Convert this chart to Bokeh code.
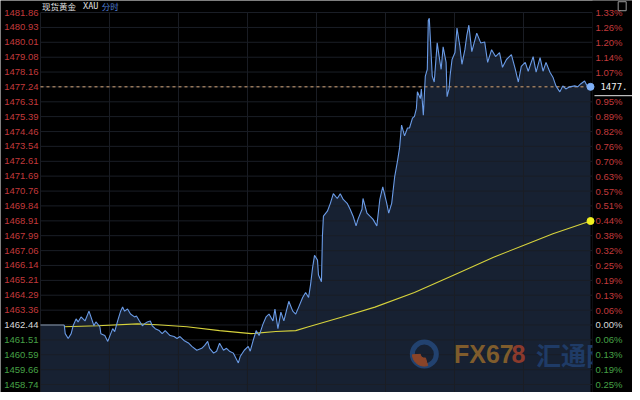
from bokeh.plotting import figure
from bokeh.models import Range1d
from bokeh.core.properties import value
from bokeh.embed import file_html
from bokeh.resources import INLINE

# ---------------- data ----------------
title_name = "现货黄金"
title_code = "XAU"
title_mode = "分时"

price_ticks = [1481.86, 1480.93, 1480.01, 1479.08, 1478.16, 1477.24, 1476.31,
               1475.39, 1474.46, 1473.54, 1472.61, 1471.69, 1470.76, 1469.84,
               1468.91, 1467.99, 1467.06, 1466.14, 1465.21, 1464.29, 1463.36,
               1462.44, 1461.51, 1460.59, 1459.66, 1458.74]
pct_labels = ["1.33%", "1.26%", "1.20%", "1.14%", "1.07%", "", "0.95%",
              "0.89%", "0.82%", "0.76%", "0.70%", "0.63%", "0.57%", "0.51%",
              "0.44%", "0.38%", "0.32%", "0.25%", "0.19%", "0.13%", "0.06%",
              "0.00%", "0.06%", "0.13%", "0.19%", "0.25%"]
base_price = 1462.44
last_label = "1477."

# pre-open flat segment (time slots)
pre_t = [0, 24]
pre_price = [1462.44, 1462.44]

# intraday price (time slot, price)
price_t = [24, 25, 28, 31, 33, 36, 38, 41, 45, 49, 51, 54, 56, 60, 61, 65, 68, 71, 73, 75,
           78, 81, 83, 85, 88, 91, 95, 97, 100, 103, 105, 108, 111, 113, 116, 120, 123, 126,
           129, 131, 135, 138, 141, 145, 150, 153, 158, 163, 166, 169, 171, 175, 178, 181,
           185, 188, 191, 195, 200, 202, 206, 210, 212, 215, 218, 221, 225, 228, 231, 235,
           237, 240, 243, 246, 251, 255, 258, 261, 265, 268, 271, 273, 275, 277, 280, 281,
           284, 285, 286, 290, 293, 296, 300, 303, 306, 310, 313, 316, 319, 321, 325, 326,
           330, 333, 336, 340, 343, 346, 350, 352, 355, 358, 361, 363, 365, 368, 371, 373,
           376, 378, 380, 381, 384, 385, 387, 389, 391, 392, 393, 394, 396, 398, 401, 403,
           405, 407, 410, 411, 413, 414, 416, 419, 421, 424, 426, 429, 431, 433, 436, 441,
           445, 449, 452, 456, 460, 464, 467, 471, 476, 480, 483, 486, 490, 493, 498, 501,
           505, 508, 511, 515, 518, 521, 525, 528, 531, 535, 540, 543, 546, 550, 553, 556]
price = [1462.44, 1461.90, 1461.60, 1461.90, 1462.39, 1462.82, 1462.63, 1462.94, 1462.69, 1463.30,
         1462.94, 1462.39, 1462.63, 1462.33, 1461.90, 1461.78, 1461.42, 1461.90, 1462.21, 1462.03,
         1462.69, 1463.30, 1463.55, 1463.30, 1463.43, 1463.12, 1462.94, 1463.00, 1462.69, 1462.39,
         1462.51, 1462.63, 1462.69, 1462.39, 1462.21, 1462.09, 1461.90, 1462.09, 1461.90, 1461.78,
         1461.72, 1461.60, 1461.72, 1461.48, 1461.30, 1461.11, 1460.87, 1460.99, 1461.17, 1461.42,
         1460.99, 1460.69, 1460.81, 1461.30, 1460.87, 1460.99, 1460.81, 1460.69, 1460.08, 1460.50,
         1460.87, 1461.11, 1460.81, 1461.48, 1462.09, 1461.78, 1462.51, 1462.94, 1463.12, 1462.69,
         1463.43, 1462.21, 1463.24, 1462.69, 1463.91, 1463.30, 1463.12, 1463.55, 1464.15, 1464.46,
         1464.15, 1464.95, 1465.98, 1466.77, 1466.47, 1465.55, 1465.13, 1467.99, 1469.20, 1469.51,
         1470.00, 1470.60, 1470.30, 1470.60, 1470.24, 1470.00, 1469.63, 1469.20, 1468.60, 1469.02,
         1469.63, 1470.30, 1469.39, 1469.20, 1469.02, 1468.60, 1470.24, 1471.03, 1470.00, 1469.39,
         1470.00, 1471.64, 1472.67, 1473.46, 1474.86, 1474.19, 1474.68, 1474.68, 1475.29, 1475.41,
         1475.90, 1476.93, 1476.51, 1477.11, 1475.47, 1477.91, 1478.33, 1481.37, 1481.50, 1480.34,
         1477.91, 1477.54, 1479.97, 1479.12, 1478.33, 1479.73, 1478.76, 1476.63, 1477.11, 1477.91,
         1478.94, 1479.37, 1480.89, 1479.73, 1478.64, 1479.55, 1480.46, 1481.07, 1479.43, 1480.58,
         1479.97, 1480.03, 1478.76, 1479.55, 1479.12, 1479.37, 1478.45, 1478.94, 1479.24, 1478.33,
         1477.54, 1478.51, 1478.76, 1478.21, 1479.12, 1478.15, 1479.06, 1478.21, 1478.76, 1478.15,
         1477.84, 1477.30, 1476.93, 1477.30, 1477.11, 1477.24, 1477.30, 1477.24, 1477.42, 1477.60,
         1477.24, 1477.24]

# average price line
avg_t = [24, 58, 98, 118, 148, 181, 213, 238, 258, 271, 305, 338, 378, 418, 458, 488, 518, 556]
avg_price = [1462.33, 1462.39, 1462.51, 1462.45, 1462.33, 1462.09, 1461.90, 1462.03, 1462.09,
             1462.33, 1462.94, 1463.55, 1464.46, 1465.55, 1466.65, 1467.38, 1468.11, 1468.90]

# ---------------- layout / style ----------------
W, H = 632, 392
session_start, session_end = 0, 558
x_lo, x_hi = -40.43, 598.43
y_lo, y_hi = 1458.243, 1482.606

UP = "#c23a3c"
DOWN = "#46a046"
FLAT = "#d8d8d8"

p = figure(width=W, height=H, output_backend="svg", toolbar_location=None,
           x_range=Range1d(x_lo, x_hi), y_range=Range1d(y_lo, y_hi),
           x_axis_type=None, y_axis_type=None, min_border=0,
           background_fill_color="#000000", border_fill_color="#000000")
p.outline_line_color = None
p.grid.visible = False

# area under price
fill_t = pre_t + price_t
fill_p = pre_price + price
p.varea(x=fill_t, y1=[y_lo] * len(fill_t), y2=fill_p, fill_color="#172132")

# grid
n = len(price_ticks)
p.segment(x0=[session_start] * n, x1=[session_end] * n, y0=price_ticks, y1=price_ticks,
          line_color="#1a1e26", line_width=1)
vt = [session_start + i * (session_end - session_start) / 8 for i in range(9)]
p.segment(x0=vt, x1=vt, y0=[y_lo] * 9, y1=[price_ticks[0]] * 9,
          line_color="#1a1d24", line_width=1)

# watermark
p.scatter(x=[388], y=[1460.63], marker="circle", size=24, fill_color=None,
          line_color="#22426f", line_width=5)
p.annular_wedge(x=[388], y=[1460.63], inner_radius=4, outer_radius=12,
                inner_radius_units="screen", outer_radius_units="screen",
                start_angle=3.2, end_angle=5.0, color="#8a4428")
p.text(x=[418], y=[1460.63], text=["FX67"], text_font=value("Liberation Sans"),
       text_font_style="bold", text_font_size="25px", text_color="#7f5c2c",
       text_baseline="middle", text_align="left")
p.text(x=[476], y=[1460.63], text=["8"], text_font=value("Liberation Sans"),
       text_font_style="bold", text_font_size="25px", text_color="#8c3a2c",
       text_baseline="middle", text_align="left")
p.text(x=[501], y=[1460.63], text=["汇通网"], text_font=value("Noto Sans CJK SC"),
       text_font_style="bold", text_font_size="25px", text_color="#1f3b66",
       text_baseline="middle", text_align="left")

# last price dashed line
p.line(x=[session_start, session_end], y=[price[-1], price[-1]],
       line_color="#d9a878", line_dash="3 3", line_width=1)

# lines
p.line(x=pre_t, y=pre_price, line_color="#8c9db3", line_width=1.1)
p.line(x=avg_t, y=avg_price, line_color="#d6d23c", line_width=1.1)
p.line(x=price_t, y=price, line_color="#6a9be6", line_width=1.1)

# right panel mask
p.quad(left=[session_end], right=[x_hi], bottom=[y_lo], top=[y_hi],
       fill_color="#000000", line_color=None)

# end dots
p.scatter(x=[avg_t[-1]], y=[avg_price[-1]], size=7, color="#f2f020")
p.scatter(x=[price_t[-1]], y=[price[-1]], size=7, color="#7fb0f6")

# axis labels
def col(v):
    if abs(v - base_price) < 1e-6:
        return FLAT
    return UP if v > base_price else DOWN

colors = [col(v) for v in price_ticks]
p.text(x=[-2] * n, y=price_ticks, text=[f"{v:.2f}" for v in price_ticks],
       text_color=colors, text_font=value("Liberation Sans"), text_font_size="9.5px",
       text_align="right", text_baseline="middle")
p.text(x=[561] * n, y=price_ticks, text=pct_labels,
       text_color=colors, text_font=value("Liberation Sans"), text_font_size="9.5px",
       text_align="left", text_baseline="middle")

# last price box
p.text(x=[566], y=[price[-1]], text=[last_label], text_color="#f0f0f0",
       text_font=value("DejaVu Sans Mono"), text_font_size="9px",
       text_align="left", text_baseline="middle")
p.line(x=[560, x_hi], y=[price[-1] - 0.55, price[-1] - 0.55], line_color="#e8e8e8", line_width=1)

# title
p.text(x=[1.5], y=[1482.25], text=[title_name], text_color="#e0e0e0",
       text_font=value("Noto Sans CJK SC"), text_font_size="8.5px",
       text_align="left", text_baseline="middle")
p.text(x=[43], y=[1482.25], text=[title_code], text_color="#e0e0e0",
       text_font=value("DejaVu Sans Mono"), text_font_size="8.5px",
       text_align="left", text_baseline="middle")
p.text(x=[62], y=[1482.25], text=[title_mode], text_color="#4f7fd6",
       text_font=value("Noto Sans CJK SC"), text_font_size="8.5px",
       text_align="left", text_baseline="middle")

# top-right icon
p.rect(x=[588], y=[1482.25], width=8, height=9, width_units="screen", height_units="screen",
       fill_color=None, line_color="#9a9a9a", line_width=1)

open("out.html", "w").write(file_html(p, INLINE))
